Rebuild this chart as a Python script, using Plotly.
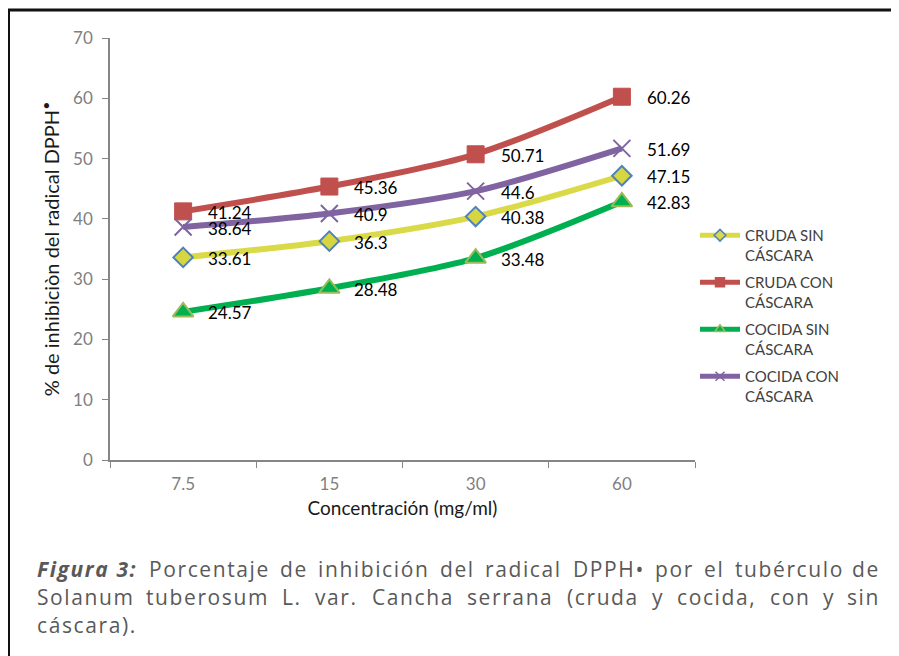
import plotly.graph_objects as go

# data
concentracion = ["7.5", "15", "30", "60"]
series_names = ["CRUDA SIN<br>CÁSCARA", "CRUDA CON<br>CÁSCARA",
                "COCIDA SIN<br>CÁSCARA", "COCIDA CON<br>CÁSCARA"]
cruda_sin = [33.61, 36.3, 40.38, 47.15]
cruda_con = [41.24, 45.36, 50.71, 60.26]
cocida_sin = [24.57, 28.48, 33.48, 42.83]
cocida_con = [38.64, 40.9, 44.6, 51.69]

# the page has an 8px body margin, so the figure is a bit smaller than the window
OFF = 8
W, H = 899 - OFF, 656 - OFF
L, R, T, B = 102, 204, 30, 196
PW, PH = W - L - R, H - T - B


def px_x(x):
    # page pixel -> paper coordinate
    return (x - OFF - L) / PW


def px_y(y):
    return (H - B - (y - OFF)) / PH


chart_font = "Lato"
styles = [
    dict(line_color="#DADA48", symbol="diamond", size=15, fill="#D6D640", edge="#4F81BD", ew=2),
    dict(line_color="#C0504D", symbol="square", size=17, fill="#C0504D", edge="#C0504D", ew=1),
    dict(line_color="#00B050", symbol="triangle-up", size=18, fill="#00B050", edge="#9BBB59", ew=2),
    dict(line_color="#8064A2", symbol="x-thin", size=17, fill="#8064A2", edge="#8064A2", ew=2),
]
all_values = [cruda_sin, cruda_con, cocida_sin, cocida_con]

fig = go.Figure()

for k, (name, vals, st) in enumerate(zip(series_names, all_values, styles)):
    fig.add_trace(go.Scatter(
        x=concentracion, y=vals, name=name, showlegend=False,
        mode="lines+markers",
        line=dict(color=st["line_color"], width=6, shape="spline", smoothing=0.8),
        marker=dict(symbol=st["symbol"], size=st["size"], color=st["fill"],
                    line=dict(color=st["edge"], width=st["ew"])),
    ))
    # legend-only entry with a smaller marker, like the original legend
    fig.add_trace(go.Scatter(
        x=[None], y=[None], name=name, legendgroup=f"g{k}",
        mode="lines+markers",
        line=dict(color=st["line_color"], width=5),
        marker=dict(symbol=st["symbol"], size=9, color=st["fill"] if k != 0 else "#DADA48",
                    line=dict(color=st["edge"], width=1.5)),
    ))
    # data labels to the right of each point
    for i, v in enumerate(vals):
        fig.add_annotation(x=i, y=v, text=f"{v:g}", showarrow=False,
                           xanchor="left", yanchor="middle", xshift=23, yshift=-1,
                           font=dict(family=chart_font, size=17, color="#000000"))

fig.update_xaxes(
    type="category", range=[-0.5, 3.5],
    showline=True, linecolor="#868686", linewidth=1.5,
    ticks="outside", tickson="boundaries", ticklen=6, tickcolor="#868686",
    ticklabelstandoff=8,
    tickfont=dict(family=chart_font, size=17, color="#7F7F7F"),
    title=dict(text="Concentración (mg/ml)", standoff=9,
               font=dict(family=chart_font, size=19, color="#1a1a1a")),
    showgrid=False, zeroline=False,
)
fig.update_yaxes(
    range=[0, 70], dtick=10,
    showline=True, linecolor="#868686", linewidth=1.5,
    ticks="outside", ticklen=6, tickcolor="#868686",
    ticklabelstandoff=6,
    tickfont=dict(family=chart_font, size=17, color="#7F7F7F"),
    title=dict(text="% de inhibiciòn del radical DPPH<sup>•</sup>", standoff=8,
               font=dict(family=chart_font, size=20, color="#1a1a1a")),
    showgrid=False, zeroline=False,
)

# frame (left and top edges visible)
fig.add_shape(type="line", xref="paper", yref="paper",
              x0=px_x(8.5), x1=px_x(8.5), y0=px_y(10), y1=px_y(700),
              line=dict(color="#111111", width=3))
fig.add_shape(type="line", xref="paper", yref="paper",
              x0=px_x(7), x1=px_x(920), y0=px_y(10), y1=px_y(10),
              line=dict(color="#111111", width=3))

# caption, justified between x=35 and x=882 by placing each word
cap_size = 21
cap_spacing = 1.6
cap_color = "#595959"
caption_lines = [
    (["Figura 3:", "Porcentaje", "de", "inhibición", "del", "radical", "DPPH•",
      "por", "el", "tubérculo", "de"], True),
    (["Solanum", "tuberosum", "L.", "var.", "Cancha", "serrana", "(cruda", "y",
      "cocida,", "con", "y", "sin"], True),
    (["cáscara)."], False),
]
bold_words = {"Figura 3:"}
left_px, right_px = 35, 882

# rough Open Sans advance widths (em)
char_w = {
    "a": .556, "b": .613, "c": .48, "d": .613, "e": .561, "f": .336, "g": .547,
    "h": .613, "i": .258, "j": .258, "k": .53, "l": .258, "m": .93, "n": .613,
    "o": .602, "p": .613, "q": .613, "r": .408, "s": .479, "t": .353, "u": .613,
    "v": .501, "w": .778, "x": .52, "y": .502, "z": .468, "é": .561, "á": .556,
    "ó": .602, "ú": .613, "P": .603, "D": .7, "H": .712, "S": .55, "L": .52,
    "C": .632, "F": .52, ".": .266, ",": .245, ":": .266, "(": .296, ")": .296,
    "•": .45, " ": .26, "3": .572,
}


def est_width(word):
    w = sum(char_w.get(ch, .57) for ch in word)
    if word in bold_words:
        w *= 1.06
    return w * cap_size + cap_spacing * len(word)


for li, (words, justify) in enumerate(caption_lines):
    y = px_y(569 + 28 * li)
    widths = [est_width(w) for w in words]
    if justify and len(words) > 1:
        gap = (right_px - left_px - sum(widths)) / (len(words) - 1)
    else:
        gap = 0.3 * cap_size
    pos = left_px
    for j, (w, ww) in enumerate(zip(words, widths)):
        inner = f"<b><i>{w}</i></b>" if w in bold_words else w
        txt = f'<span style="letter-spacing:{cap_spacing}px">{inner}</span>'
        if j == 0:
            xa, xp = "left", pos
        elif justify and j == len(words) - 1:
            xa, xp = "right", right_px
        else:
            xa, xp = "center", pos + ww / 2
        fig.add_annotation(xref="paper", yref="paper", x=px_x(xp), y=y,
                           text=txt, showarrow=False, xanchor=xa, yanchor="middle",
                           font=dict(family="Open Sans", size=cap_size, color=cap_color))
        pos += ww + gap

fig.update_layout(
    width=W, height=H,
    margin=dict(l=L, r=R, t=T, b=B),
    paper_bgcolor="white", plot_bgcolor="white",
    legend=dict(x=px_x(695), y=px_y(219), xanchor="left", yanchor="top",
                valign="top", itemwidth=40, tracegroupgap=5,
                font=dict(family=chart_font, size=15, color="#404040"),
                bgcolor="rgba(0,0,0,0)"),
    showlegend=True,
)

fig.write_html("out.html")
